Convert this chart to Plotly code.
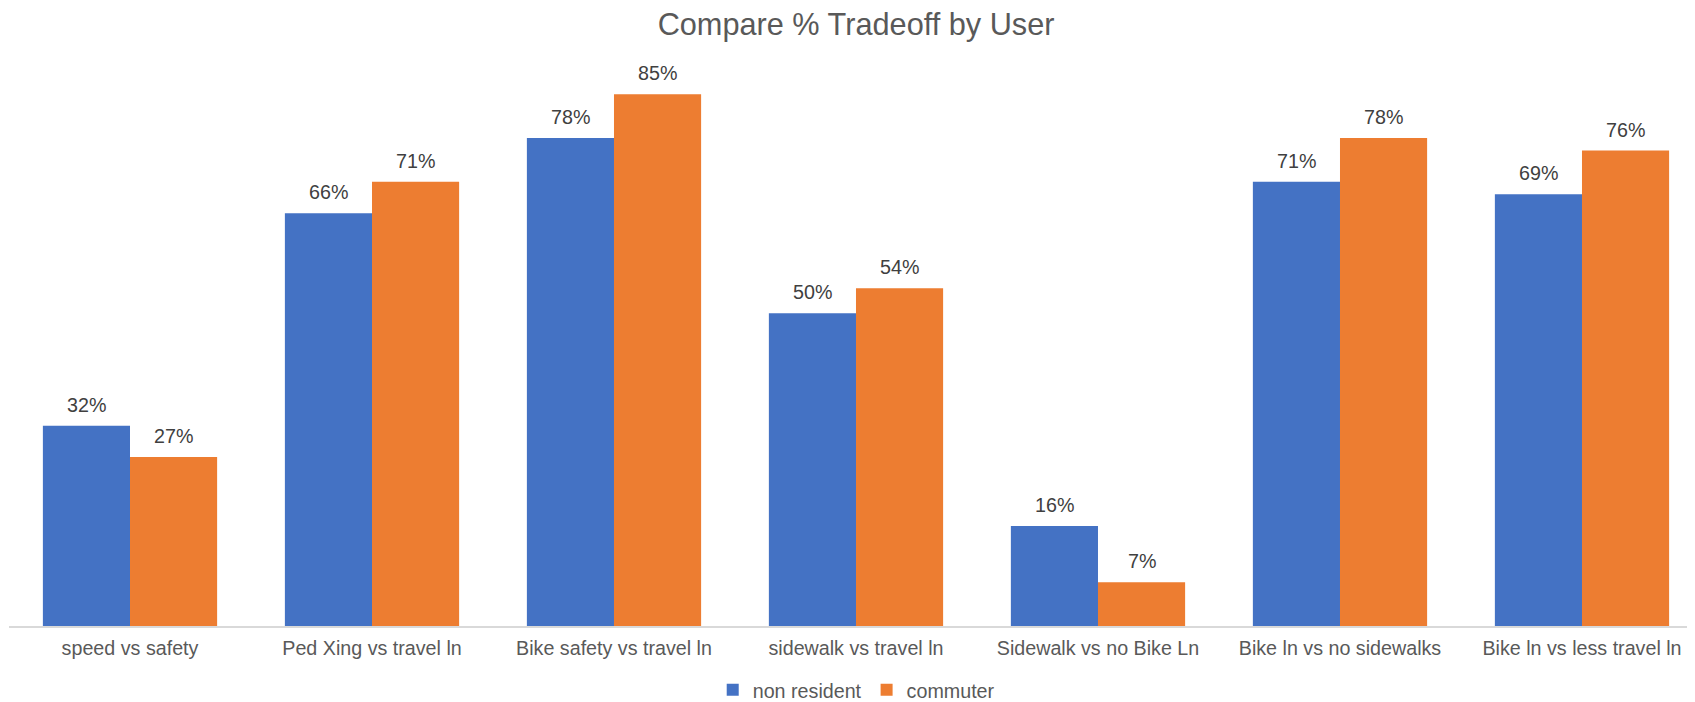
import plotly.graph_objects as go

categories = ["speed vs safety", "Ped Xing vs travel ln", "Bike safety vs travel ln",
              "sidewalk vs travel ln", "Sidewalk vs no Bike Ln", "Bike ln vs no sidewalks",
              "Bike ln vs less travel ln"]
non_resident = [0.32, 0.66, 0.78, 0.50, 0.16, 0.71, 0.69]
commuter = [0.27, 0.71, 0.85, 0.54, 0.07, 0.78, 0.76]
series_names = ["non resident", "commuter"]
colors = ["#4472C4", "#ED7D31"]

# page has an 8px body margin, so the figure is sized to fit the 1695x702 window
W, H = 1687, 694
FONT = "Liberation Sans, Arial, sans-serif"
BAR_GAP = 0.28

fig = go.Figure()
idx = list(range(len(categories)))
for name, vals, col in zip(series_names, [non_resident, commuter], colors):
    fig.add_trace(go.Bar(x=idx, y=vals, name=name, marker=dict(color=col, line=dict(width=0))))

# data labels above each bar
bar_w = (1 - BAR_GAP) / 2
for s, vals in enumerate([non_resident, commuter]):
    off = (s - 0.5) * bar_w
    for i, v in enumerate(vals):
        fig.add_annotation(x=i + off, y=v, xref="x", yref="y", text=f"{round(v*100)}%",
                           showarrow=False, yanchor="bottom", yshift=8,
                           font=dict(family=FONT, size=19.7, color="#404040"))

fig.update_layout(
    width=W, height=H,
    margin=dict(l=1, r=0, t=55, b=76, autoexpand=False),
    paper_bgcolor="white", plot_bgcolor="white",
    barmode="group", bargap=BAR_GAP, bargroupgap=0,
    title=dict(text="Compare % Tradeoff by User", x=0.5027, xanchor="center",
               y=1 - 16 / H, yanchor="middle", yref="container",
               font=dict(family=FONT, size=30.7, color="#595959")),
    showlegend=True,
    legend=dict(orientation="h", x=0.5025, xanchor="center", y=-0.1137, yanchor="middle",
                font=dict(family=FONT, size=19.7, color="#595959"),
                itemwidth=30, tracegroupgap=0, bgcolor="rgba(0,0,0,0)"),
    xaxis=dict(tickmode="array", tickvals=idx, ticktext=categories,
               range=[-0.5, 6.467], showgrid=False, zeroline=False,
               showline=True, linecolor="#D9D9D9", linewidth=1.5,
               ticks="outside", ticklen=4, tickcolor="rgba(0,0,0,0)",
               tickfont=dict(family=FONT, size=19.7, color="#595959")),
    yaxis=dict(range=[0, 0.9], visible=False, showgrid=False, zeroline=False),
)

fig.write_html("out.html")
